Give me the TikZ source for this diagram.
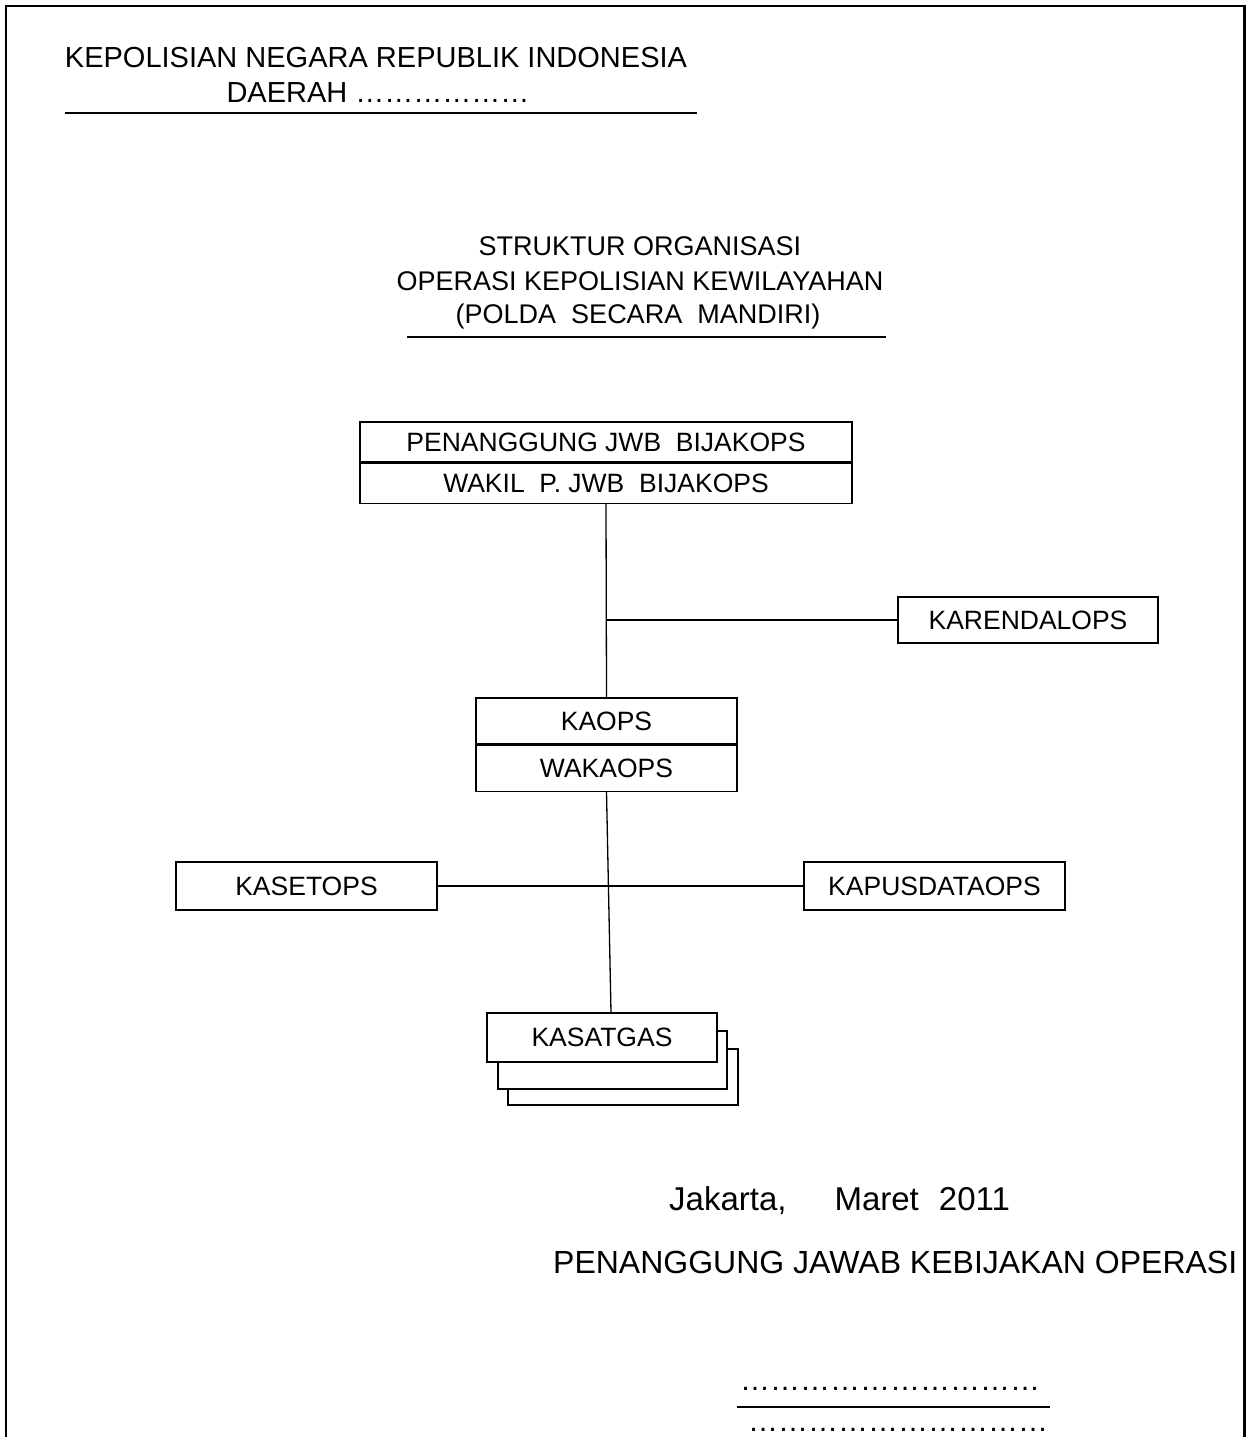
\documentclass[tikz,border=0pt]{standalone}
\usepackage{fontspec}
\setmainfont{Liberation Sans}
\usetikzlibrary{positioning}
\begin{document}
\begin{tikzpicture}[x=1pt,y=-1pt,
        orgbox/.style={draw,line width=1.3pt,fill=white,inner sep=0pt,font=\fontsize{26.5}{30}\selectfont},
        txt/.style={inner sep=0pt,anchor=base},
        link/.style={line width=1.3pt}]
    \useasboundingbox (0,0) rectangle (1246,1437);
    % page frame, open at the bottom
    \draw[line width=2.2pt] (6,1437) -- (6,6) -- (1244.5,6) -- (1244.5,1437);

    % heading
    \node[txt,font=\fontsize{29}{34}\selectfont] (kop1) at (376,67) {KEPOLISIAN NEGARA REPUBLIK INDONESIA};
    \node[txt,font=\fontsize{29}{34}\selectfont] (kop2) at (378,102) {DAERAH ………………};
    \draw[link] (65,113) -- (697,113);

    \node[txt,font=\fontsize{27}{32}\selectfont] (judul1) at (640,255) {STRUKTUR ORGANISASI};
    \node[txt,font=\fontsize{27}{32}\selectfont] (judul2) at (640,290) {OPERASI KEPOLISIAN KEWILAYAHAN};
    \node[txt,font=\fontsize{27}{32}\selectfont] (judul3) at (638,323) {(POLDA\ \ SECARA\ \ MANDIRI)};
    \draw[link] (407,337) -- (886,337);

    % chart
    \node[orgbox,minimum width=492pt,minimum height=40pt] (pj) at (606,442) {PENANGGUNG JWB\ \ BIJAKOPS};
    \node[orgbox,minimum width=492pt,minimum height=40pt,below=0pt of pj] (wpj) {WAKIL\ \ P. JWB\ \ BIJAKOPS};

    \node[orgbox,minimum width=260pt,minimum height=46pt] (karendal) at (1028,620) {KARENDALOPS};

    \node[orgbox,minimum width=261pt,minimum height=46pt] (kaops) at (606.5,721) {KAOPS};
    \node[orgbox,minimum width=261pt,minimum height=46pt,below=0pt of kaops] (wakaops) {WAKAOPS};

    \node[orgbox,minimum width=261pt,minimum height=48pt] (kasetops) at (306.5,886) {KASETOPS};
    \node[orgbox,minimum width=261pt,minimum height=48pt] (kapusdata) at (934.5,886) {KAPUSDATAOPS};

    \node[orgbox,minimum width=230pt,minimum height=56pt] (satgas3) at (623,1077) {};
    \node[orgbox,minimum width=229pt,minimum height=58pt] (satgas2) at (612.5,1060) {};
    \node[orgbox,minimum width=230pt,minimum height=49pt] (kasatgas) at (602,1037.5) {KASATGAS};

    \draw[link] (wpj.south) -- (kaops.north);
    \draw[link] (karendal.west) -- (karendal.west -| wpj.south);
    \draw[link] (wakaops.south) -- ([xshift=9pt]kasatgas.north);
    \draw[link] (kasetops.east) -- (kapusdata.west);

    % signature
    \node[txt,anchor=base west,font=\fontsize{33}{36}\selectfont] (tempat) at (669,1210) {Jakarta,\hspace{48pt}Maret\hspace{20pt}2011};
    \node[txt,anchor=base west,font=\fontsize{32}{36}\selectfont] (jabatan) at (553,1273) {PENANGGUNG JAWAB KEBIJAKAN OPERASI};
    \node[txt,anchor=base west,font=\fontsize{30}{36}\selectfont] (nama) at (740,1390) {…………………………};
    \draw[link] (737,1407) -- (1050,1407);
    \node[txt,anchor=base west,font=\fontsize{30}{36}\selectfont] (nrp) at (748,1431) {…………………………};
\end{tikzpicture}
\end{document}
